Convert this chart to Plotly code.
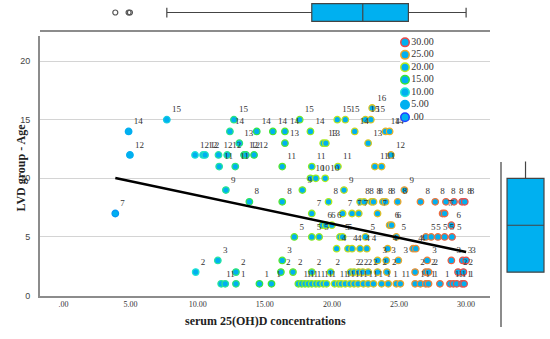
import plotly.graph_objects as go

# ---------------- data ----------------
# serum 25(OH)D values for each age (LVD group - Age)
serum_age16 = [23.0]
serum_age15 = [7.7, 12.7, 17.6, 20.4, 21.0, 22.5, 22.9]
serum_age14 = [4.85, 12.4, 14.4, 15.6, 16.5, 18.4, 21.7, 24.0, 24.3]
serum_age13 = [13.1, 16.5, 19.35, 19.55, 22.7]
serum_age12 = [4.95, 9.8, 10.4, 10.55, 11.55, 12.2, 13.45, 13.6, 14.2, 24.4]
serum_age11 = [11.6, 12.8, 16.3, 18.5, 20.45, 23.2, 23.7]
serum_age10 = [18.4, 18.8, 19.5]
serum_age9 = [12.1, 17.8, 20.9, 25.4]
serum_age8 = [13.85, 16.3, 19.75, 22.1, 22.4, 22.95, 23.1, 23.8, 24.0, 24.9,
              26.6, 27.7, 28.5, 29.1, 29.7, 29.9]
serum_age7 = [3.86, 18.5, 20.8, 21.5, 22.0, 23.4, 28.25, 28.4]
serum_age6 = [19.3, 19.55, 20.0, 24.3, 24.45, 28.9]
serum_age5 = [17.2, 18.5, 19.05, 20.6, 20.8, 22.5, 24.8, 27.0, 27.4, 27.9, 28.4, 28.95]
serum_age4 = [20.35, 21.2, 21.5, 22.1, 22.6, 24.15, 26.05, 26.25]
serum_age3 = [11.5, 16.3, 23.4, 24.05, 24.95, 27.1, 28.9, 29.75, 30.0]
serum_age2 = [9.85, 12.85, 16.2, 17.1, 18.5, 19.9, 21.4, 21.65, 22.0, 22.3, 22.7,
              23.4, 24.1, 26.2, 27.0, 27.2, 29.4, 29.8]
serum_age1 = [11.75, 12.05, 12.85, 14.6, 15.5, 17.5, 17.75, 18.0, 18.25, 18.5, 18.8,
              19.05, 19.35, 19.6, 20.2, 20.5, 20.7, 21.0, 21.35, 21.65, 21.95, 22.35,
              22.7, 23.1, 23.7, 24.2, 24.8, 25.1, 26.2, 26.6, 27.0, 27.2, 28.05, 28.8,
              29.05, 29.3, 29.7, 29.85]

age_levels = [16, 15, 14, 13, 12, 11, 10, 9, 8, 7, 6, 5, 4, 3, 2, 1]
serum_rows = [serum_age16, serum_age15, serum_age14, serum_age13, serum_age12,
              serum_age11, serum_age10, serum_age9, serum_age8, serum_age7,
              serum_age6, serum_age5, serum_age4, serum_age3, serum_age2, serum_age1]

# fit line (intercept, slope)
fit_intercept = 10.97
fit_slope = -0.242

# marginal box plot statistics
serum_box = dict(q1=18.5, median=22.3, q3=25.7, lowerfence=7.7, upperfence=30.0)
serum_outliers = [3.86, 4.85, 4.95]
age_box = dict(q1=2.0, median=6.0, q3=10.0, lowerfence=2.0, upperfence=16.0)

legend_values = [30, 25, 20, 15, 10, 5, 0]
legend_labels = ["30.00", "25.00", "20.00", "15.00", "10.00", "5.00", ".00"]

x_tick_vals = [0, 5, 10, 15, 20, 25, 30]
x_tick_text = [".00", "5.00", "10.00", "15.00", "20.00", "25.00", "30.00"]
y_tick_vals = [0, 5, 10, 15, 20]

# ---------------- build ----------------
xs, ys = [], []
for a, row in zip(age_levels, serum_rows):
    for v in row:
        xs.append(v)
        ys.append(a)

W, H = 550, 339
FILL = "#00B0F0"
# outline colour stops (value -> colour)
outline_stops = [(0, "#2040ff"), (5, "#00b0f0"), (10, "#22e6d2"), (15, "#33e633"),
                 (20, "#b8ee1a"), (25, "#f0a628"), (30, "#ec4848")]


def outline_color(v):
    def rgb(h):
        return [int(h[i:i + 2], 16) for i in (1, 3, 5)]
    if v <= outline_stops[0][0]:
        return outline_stops[0][1]
    for (v0, c0), (v1, c1) in zip(outline_stops[:-1], outline_stops[1:]):
        if v <= v1:
            t = (v - v0) / (v1 - v0)
            a, b = rgb(c0), rgb(c1)
            return "rgb({},{},{})".format(*[round(a[i] + (b[i] - a[i]) * t) for i in range(3)])
    return outline_stops[-1][1]


# pixel geometry of the main plot
px_left, px_right = 40, 490
px_top, px_bottom = 37, 300
x0_px, x_per = 63.5, 13.42
y_per = 11.9
x_range = [(px_left - x0_px) / x_per, (px_right - x0_px) / x_per]
y_range = [0, (px_bottom - px_top) / y_per]


def fy(py):
    return (H - py) / H


fig = go.Figure()

# scatter points
fig.add_trace(go.Scatter(
    x=xs, y=ys, mode="markers+text", text=[str(a) for a in ys],
    textposition="top right",
    textfont=dict(family="Liberation Serif", size=9, color="#333333"),
    marker=dict(size=6.5, color=FILL,
                line=dict(width=1.3, color=[outline_color(v) for v in xs])),
    showlegend=False, cliponaxis=False, xaxis="x", yaxis="y"))

# fit line
x_min, x_max = min(xs), max(xs)
fig.add_trace(go.Scatter(
    x=[x_min, x_max], y=[fit_intercept + fit_slope * x_min, fit_intercept + fit_slope * x_max],
    mode="lines", line=dict(color="black", width=2.5), showlegend=False,
    xaxis="x", yaxis="y"))

# top marginal box
fig.add_trace(go.Box(
    y=[0], q1=[serum_box["q1"]], median=[serum_box["median"]], q3=[serum_box["q3"]],
    lowerfence=[serum_box["lowerfence"]], upperfence=[serum_box["upperfence"]],
    orientation="h", fillcolor=FILL, line=dict(color="#444444", width=1.2),
    width=0.78, whiskerwidth=0.55, boxpoints=False, showlegend=False,
    xaxis="x2", yaxis="y2"))
fig.add_trace(go.Scatter(
    x=serum_outliers, y=[0] * len(serum_outliers), mode="markers",
    marker=dict(symbol="circle-open", size=5, color="#555555", line=dict(width=1.2)),
    showlegend=False, xaxis="x2", yaxis="y2"))

# right marginal box
fig.add_trace(go.Box(
    x=[0.49], q1=[age_box["q1"]], median=[age_box["median"]], q3=[age_box["q3"]],
    lowerfence=[age_box["lowerfence"]], upperfence=[age_box["upperfence"]],
    fillcolor=FILL, line=dict(color="#444444", width=1.2),
    width=0.77, whiskerwidth=0, boxpoints=False, showlegend=False,
    xaxis="x3", yaxis="y3"))

# legend (drawn as markers on its own small axis)
fig.add_trace(go.Scatter(
    x=[0] * len(legend_values), y=legend_values, mode="markers+text",
    text=legend_labels, textposition="middle right",
    textfont=dict(family="Liberation Serif", size=10, color="#333333"),
    marker=dict(size=8.5, color=FILL,
                line=dict(width=1.5, color=[outline_color(v) for v in legend_values])),
    showlegend=False, cliponaxis=False, xaxis="x4", yaxis="y4"))

axis_gray = "#8c8c8c"
fig.update_layout(
    width=W, height=H, margin=dict(l=0, r=0, t=0, b=0),
    paper_bgcolor="white", plot_bgcolor="white",
    xaxis=dict(domain=[px_left / W, px_right / W], range=x_range, anchor="y",
               tickvals=x_tick_vals, ticktext=x_tick_text, showgrid=False, zeroline=False,
               showline=True, linecolor=axis_gray, linewidth=2, ticks="",
               tickfont=dict(family="Liberation Serif", size=8, color="#333333")),
    yaxis=dict(domain=[fy(px_bottom), fy(px_top)], range=y_range, anchor="x",
               tickvals=y_tick_vals, showgrid=True, gridcolor="#d4d4d4", gridwidth=1,
               zeroline=False, showline=True, linecolor=axis_gray, linewidth=2, ticks="",
               ticklabelstandoff=6,
               tickfont=dict(family="Liberation Sans", size=9, color="#444444")),
    xaxis2=dict(domain=[px_left / W, px_right / W], range=x_range, anchor="y2",
                showgrid=False, zeroline=False, showticklabels=False, ticks="",
                showline=True, linecolor=axis_gray, linewidth=2),
    yaxis2=dict(domain=[fy(30), 1], range=[-0.75, 0.55], anchor="x2",
                showgrid=False, zeroline=False, showticklabels=False, ticks="", showline=False),
    xaxis3=dict(domain=[502 / W, 1], range=[0, 1], anchor="y3",
                showgrid=False, zeroline=False, showticklabels=False, ticks="", showline=False),
    yaxis3=dict(domain=[fy(332), fy(164)], range=[(px_bottom - 332) / y_per, (px_bottom - 164) / y_per],
                anchor="x3", showgrid=False, zeroline=False, showticklabels=False, ticks="",
                showline=True, linecolor=axis_gray, linewidth=2),
    xaxis4=dict(domain=[400 / W, 410 / W], range=[-1, 1], anchor="y4", visible=False),
    yaxis4=dict(domain=[fy(119), fy(43)], range=[0, 30], anchor="x4", visible=False),
    annotations=[
        dict(text="<b>LVD group - Age</b>", x=21 / W, y=fy(170), xref="paper", yref="paper",
             textangle=-90, showarrow=False, xanchor="center", yanchor="middle",
             font=dict(family="Liberation Serif", size=12, color="#222222")),
        dict(text="<b>serum 25(OH)D concentrations</b>", x=265 / W, y=fy(326), xref="paper",
             yref="paper", showarrow=False, xanchor="center", yanchor="middle",
             font=dict(family="Liberation Serif", size=12, color="#222222")),
    ],
)

fig.write_html("out.html", config={"displayModeBar": False},
               post_script="document.body.style.margin='0';document.body.style.padding='0';")
